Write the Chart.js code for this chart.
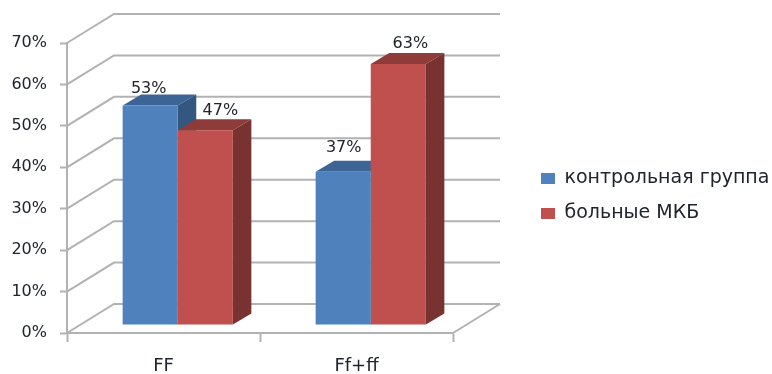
<!DOCTYPE html>
<html lang="ru">
<head>
<meta charset="utf-8">
<title>FF / Ff+ff</title>
<script src="https://cdn.jsdelivr.net/npm/chart.js@4/dist/chart.umd.min.js"></script>
<style>
    html, body { margin: 0; background: #fff; }
    canvas { display: block; }
</style>
</head>
<body>
<canvas id="genotypeChart" width="772" height="374"></canvas>
<script>
const categories = ['FF', 'Ff+ff'];
const seriesNames = ['контрольная группа', 'больные МКБ'];
const controlValues = [53, 37];
const patientValues = [47, 63];
const yTicks = [0, 10, 20, 30, 40, 50, 60, 70];

// Box colours: front, top face, side face
const blue = { front: '#4f81bd', top: '#3c6596', side: '#345780' };
const red = { front: '#c0504d', top: '#8e3b39', side: '#783230' };
const gridColor = '#b2b2b2';
const textColor = '#20242c';
const fontFamily = '"DejaVu Sans", sans-serif';

// Depth of the floor and of the bars, in pixels
const wallDepth = { x: 47, y: -29 };
const barDepth = { x: 18.5, y: -11 };
const barOffset = { x: 14.25, y: -8 };

// Hand-placed value labels, relative to the top centre of each bar
const labelNudge = [
    [{ x: -1.5, y: -17 }, { x: 0.5, y: -24 }],
    [{ x: 15, y: -19 }, { x: 12, y: -20 }]
];

function line(ctx, points) {
    ctx.beginPath();
    points.forEach((p, i) => i ? ctx.lineTo(p[0], p[1]) : ctx.moveTo(p[0], p[1]));
    ctx.stroke();
}

function face(ctx, points, color) {
    ctx.beginPath();
    points.forEach((p, i) => i ? ctx.lineTo(p[0], p[1]) : ctx.moveTo(p[0], p[1]));
    ctx.closePath();
    ctx.fillStyle = color;
    ctx.fill();
}

const box3d = {
    id: 'box3d',
    beforeDatasetsDraw(chart) {
        const ctx = chart.ctx;
        const area = chart.chartArea;
        const yScale = chart.scales.y;

        // Side wall and back wall grid lines
        ctx.save();
        ctx.strokeStyle = gridColor;
        ctx.lineWidth = 2;
        yTicks.forEach(tick => {
            const y = yScale.getPixelForValue(tick);
            line(ctx, [
                [area.left, y],
                [area.left + wallDepth.x, y + wallDepth.y],
                [area.right + wallDepth.x, y + wallDepth.y]
            ]);
        });
        line(ctx, [
            [area.right + wallDepth.x, area.bottom + wallDepth.y],
            [area.right, area.bottom]
        ]);
        ctx.restore();

        // Everything that belongs to the bars sits a little behind the front edge
        ctx.save();
        ctx.translate(barOffset.x, barOffset.y);

        chart.data.datasets.forEach((dataset, d) => {
            const colors = d === 0 ? blue : red;
            chart.getDatasetMeta(d).data.forEach(bar => {
                const left = bar.x - bar.width / 2;
                const right = bar.x + bar.width / 2;
                const dx = barDepth.x;
                const dy = barDepth.y;
                face(ctx, [[left, bar.y], [left + dx, bar.y + dy], [right + dx, bar.y + dy], [right, bar.y]], colors.top);
                face(ctx, [[right, bar.y], [right + dx, bar.y + dy], [right + dx, bar.base + dy], [right, bar.base]], colors.side);
            });
        });
    },
    afterDatasetsDraw(chart) {
        const ctx = chart.ctx;

        ctx.fillStyle = textColor;
        ctx.font = '16px ' + fontFamily;
        ctx.textAlign = 'center';
        ctx.textBaseline = 'middle';
        chart.data.datasets.forEach((dataset, d) => {
            chart.getDatasetMeta(d).data.forEach((bar, i) => {
                const nudge = labelNudge[d][i];
                ctx.fillText(dataset.data[i] + '%', bar.x + nudge.x, bar.y + nudge.y);
            });
        });
        ctx.restore();
    },
    afterLayout(chart) {
        // Legend lives in the empty space right of the plot
        const legend = chart.legend;
        const pad = legend.options.labels.padding;
        legend.left = 541 - pad;
        legend.right = legend.left + legend.width;
        legend.top = 169 - pad;
        legend.bottom = legend.top + legend.height;
    }
};

new Chart(document.getElementById('genotypeChart'), {
    type: 'bar',
    data: {
        labels: categories,
        datasets: [
            { label: seriesNames[0], data: controlValues, backgroundColor: blue.front },
            { label: seriesNames[1], data: patientValues, backgroundColor: red.front }
        ]
    },
    options: {
        responsive: false,
        animation: false,
        categoryPercentage: 0.571,
        barPercentage: 1,
        layout: {
            padding: { left: 0, top: 43, right: 319, bottom: 0 }
        },
        scales: {
            x: {
                afterFit(scale) { scale.height = 41; },
                border: { color: gridColor, width: 2 },
                grid: { drawOnChartArea: false, tickLength: 9, tickWidth: 2, tickColor: gridColor },
                ticks: {
                    color: textColor,
                    padding: 14,
                    maxRotation: 0,
                    font: { family: fontFamily, size: 18 }
                }
            },
            y: {
                min: 0,
                max: 70,
                afterFit(scale) { scale.width = 67; },
                border: { color: gridColor, width: 2 },
                grid: { drawOnChartArea: false, tickLength: 7, tickWidth: 2, tickColor: gridColor },
                ticks: {
                    color: textColor,
                    padding: 13,
                    stepSize: 10,
                    autoSkip: false,
                    callback: value => value + '%',
                    font: { family: fontFamily, size: 16 }
                }
            }
        },
        plugins: {
            tooltip: { enabled: false },
            legend: {
                position: 'chartArea',
                align: 'start',
                labels: {
                    color: textColor,
                    boxWidth: 14,
                    boxHeight: 11,
                    padding: 16,
                    font: { family: fontFamily, size: 19 }
                }
            }
        }
    },
    plugins: [box3d]
});
</script>
</body>
</html>
